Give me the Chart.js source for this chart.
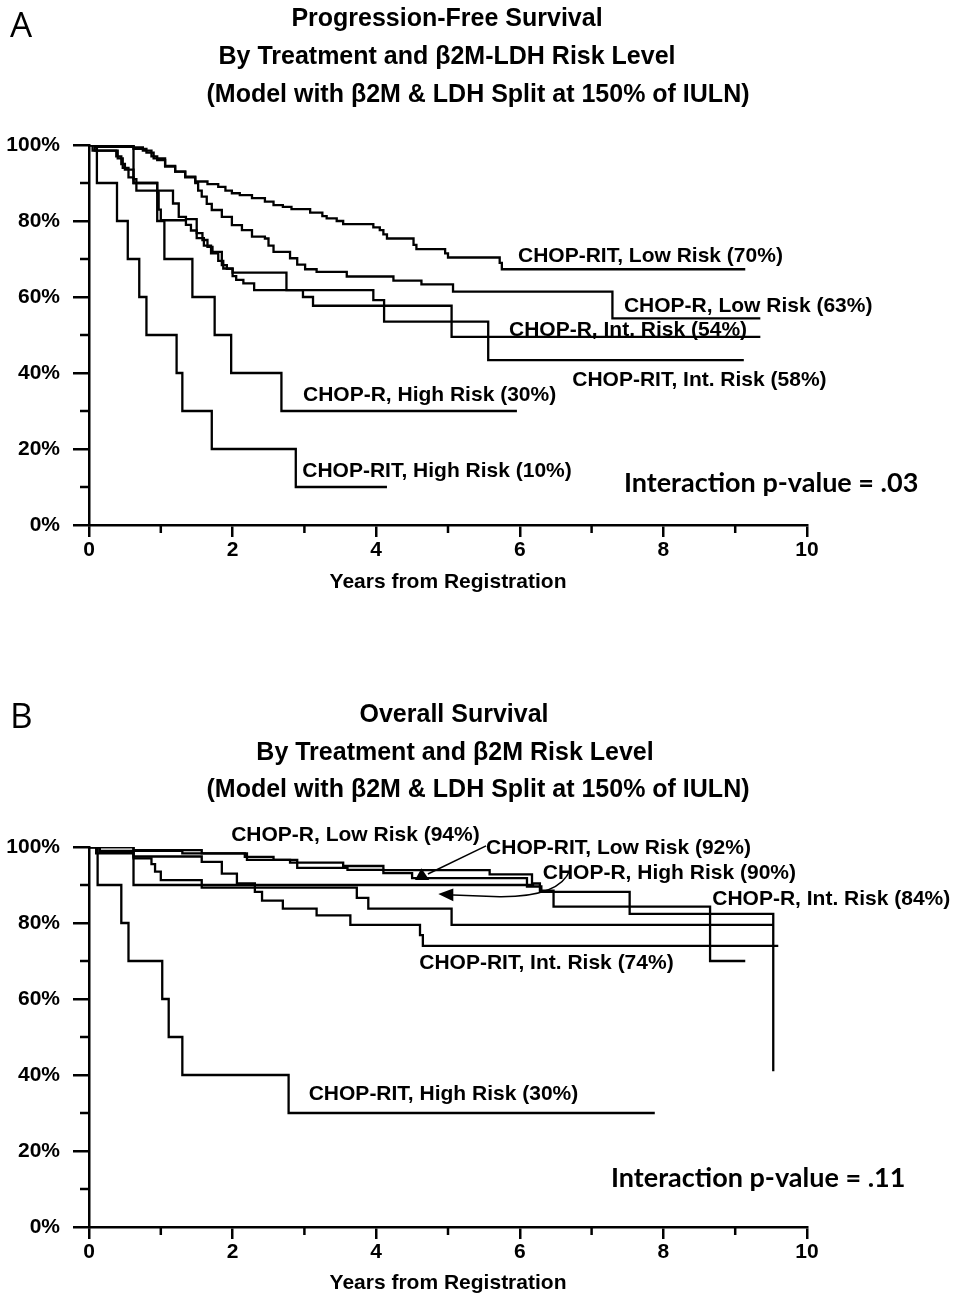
<!DOCTYPE html>
<html>
<head>
<meta charset="utf-8">
<script src="https://cdn.jsdelivr.net/npm/chart.js@4.4.1/dist/chart.umd.min.js"></script>
<style>
  html, body { margin: 0; padding: 0; background: #fff; }
  body { width: 954px; height: 1298px; position: relative; overflow: hidden;
         font-family: "Liberation Sans", Arial, sans-serif; }
  .panel { position: absolute; left: 0; width: 954px; height: 649px; }
  .t { position: absolute; transform: translate(-50%, -50%); white-space: nowrap;
       font-weight: bold; font-size: 25px; line-height: 1; color: #000; }
  .letter { position: absolute; font-family: "Open Sans", sans-serif; font-size: 35px;
            line-height: 1; color: #000; }
</style>
</head>
<body>
<div class="panel" style="top:0"><canvas id="pfs" width="954" height="649"></canvas></div>
<div class="panel" style="top:649px"><canvas id="os" width="954" height="649"></canvas></div>

<div class="letter" style="left:10px;top:6px">A</div>
<div class="t" style="left:447px;top:17px">Progression-Free Survival</div>
<div class="t" style="left:447px;top:55px">By Treatment and β2M-LDH Risk Level</div>
<div class="t" style="left:478px;top:93px">(Model with β2M &amp; LDH Split at 150% of IULN)</div>

<div class="letter" style="left:10px;top:697px">B</div>
<div class="t" style="left:454px;top:713px">Overall Survival</div>
<div class="t" style="left:455px;top:751px">By Treatment and β2M Risk Level</div>
<div class="t" style="left:478px;top:788px">(Model with β2M &amp; LDH Split at 150% of IULN)</div>

<script>
"use strict";

// axis ticks
var yTicksMajor = [0, 20, 40, 60, 80, 100];
var yTicksMinor = [10, 30, 50, 70, 90];
var xTicksMajor = [0, 2, 4, 6, 8, 10];
var xTicksMinor = [1, 3, 5, 7, 9];
var xTitle = "Years from Registration";

// Panel A: progression-free survival, [years, % event free after the step]
var pfsRitLow = [[0,100],[0.62,99.4],[0.75,98.5],[0.87,97],[0.95,96],[1.06,94.3],[1.2,93],
  [1.34,91.7],[1.48,90.4],[1.65,89.7],[1.8,89],[1.9,88],[1.99,87.3],[2.1,86.8],[2.27,86],
  [2.45,85.1],[2.57,84.2],[2.7,83.7],[2.82,83.1],[3.08,82.2],[3.25,81.3],[3.31,80.7],
  [3.45,80],[3.54,79.2],[3.96,78.3],[4.05,77.6],[4.1,76.5],[4.15,75.4],[4.52,73.7],
  [4.56,72.6],[4.96,71.5],[5.0,70.4],[5.72,69],[5.75,67.3],[9.14,67.3]];
var pfsRLow = [[0,100],[0.1,99.5],[0.62,99],[0.8,98],[0.9,96.5],[1.06,94.5],[1.2,93],
  [1.34,91.5],[1.48,90],[1.52,88],[1.57,86.4],[1.64,84.5],[1.71,82.9],[1.85,81.1],
  [1.99,78.9],[2.13,77.6],[2.27,75.9],[2.45,75.4],[2.5,73.5],[2.57,71.9],[2.8,70.2],
  [2.9,68.5],[3.01,67.3],[3.17,66.6],[3.59,65.4],[4.24,64.3],[4.63,63.3],[5.07,61.4],
  [7.29,54.4],[9.35,54.4]];
var pfsRInt = [[0,100],[0.08,98.5],[0.4,96.5],[0.47,94],[0.55,91.5],[0.62,90],[0.95,87.5],
  [0.97,83],[1.0,80.2],[1.35,79],[1.42,77.5],[1.5,75.5],[1.6,73.5],[1.7,71.5],[1.8,69.5],
  [1.87,67.5],[2.0,65.5],[2.05,64.5],[2.15,63.6],[2.3,61.8],[2.98,60],[3.12,57.7],
  [5.05,49.5],[9.35,49.5]];
var pfsRitInt = [[0,100],[0.05,98.5],[0.38,97],[0.45,95],[0.5,93.5],[0.62,91],[0.66,88],
  [1.17,84.6],[1.25,81.1],[1.35,80.5],[1.5,76.8],[1.58,75],[1.65,73.2],[1.72,71.9],
  [1.85,68.4],[1.92,67.4],[2.0,66.4],[2.75,61.8],[3.96,59.2],[4.11,53.5],[5.56,43.4],
  [9.12,43.4]];
var pfsRHigh = [[0,100],[0.62,90],[0.95,80],[1.05,70],[1.44,60],[1.75,50],[1.98,40],
  [2.68,30],[5.96,30]];
var pfsRitHigh = [[0,100],[0.11,90],[0.39,80],[0.54,70],[0.70,60],[0.80,50],[1.22,40],
  [1.30,30],[1.71,20],[2.88,10],[4.15,10]];

// Panel B: overall survival
var osRLow = [[0,100],[0.62,99.2],[1.57,98.3],[2.17,97.4],[2.57,96.6],[2.8,95.9],[3.54,95],
  [4.1,93.9],[5.58,92.8],[6.17,90.4],[6.28,88.2],[7.53,82.4],[9.53,41]];
var osRitLow = [[0,100],[0.15,99],[1.3,98.3],[2.2,96.6],[2.9,94.5],[3.6,94],[4.1,93.1],
  [4.5,91.8],[6.1,89.6],[6.3,88.5],[6.47,84.3],[8.65,70],[9.14,70]];
var osRHigh = [[0,100],[0.62,90],[6.2,90]];
var osRInt = [[0,100],[0.1,98.3],[0.62,97],[0.87,95.5],[0.92,93.5],[1.0,91.3],[1.57,89.3],
  [3.73,86.6],[3.89,83.8],[5.05,79.5],[9.53,79.5]];
var osRitInt = [[0,100],[0.15,98.5],[0.62,97.5],[1.57,96.1],[1.85,93],[2.06,90.4],[2.31,88.2],
  [2.41,85.9],[2.7,83.8],[3.17,82],[3.64,79.5],[4.61,76.8],[4.65,74],[9.6,74]];
var osRitHigh = [[0,100],[0.12,90],[0.45,80],[0.55,70],[1.02,60],[1.11,50],[1.30,40],
  [2.78,30],[7.88,30]];

var FONT = '"Liberation Sans", Arial, sans-serif';
var LABEL_FONT = "bold 21px " + FONT;
var NOTE_FONT = "bold 27px Lato, sans-serif";

// curve labels, placed in data units (years, %)
var pfsNotes = [
  { text: "CHOP-RIT, Low Risk (70%)", x: 5.975, y: 70.8 },
  { text: "CHOP-R, Low Risk (63%)", x: 7.45, y: 57.6 },
  { text: "CHOP-R, Int. Risk (54%)", x: 5.85, y: 51.3 },
  { text: "CHOP-RIT, Int. Risk (58%)", x: 6.73, y: 38.2 },
  { text: "CHOP-R, High Risk (30%)", x: 2.98, y: 34.2 },
  { text: "CHOP-RIT, High Risk (10%)", x: 2.97, y: 14.2 },
  { text: "Interaction p-value = .03", x: 7.45, y: 11.0, font: NOTE_FONT }
];
var osNotes = [
  { text: "CHOP-R, Low Risk (94%)", x: 1.98, y: 103.2 },
  { text: "CHOP-RIT, Low Risk (92%)", x: 5.53, y: 99.7 },
  { text: "CHOP-R, High Risk (90%)", x: 6.32, y: 93.2 },
  { text: "CHOP-R, Int. Risk (84%)", x: 8.68, y: 86.3 },
  { text: "CHOP-RIT, Int. Risk (74%)", x: 4.60, y: 69.5 },
  { text: "CHOP-RIT, High Risk (30%)", x: 3.06, y: 35.0 },
  { text: "Interaction p-value = .11", x: 7.27, y: 12.9, font: NOTE_FONT }
];
var osArrows = [
  { line: [[5.53, 100.3], [4.72, 92.9]], head: [[4.63, 94.4], [4.54, 91.3], [4.74, 91.3]] },
  { line: [[5.07, 87.4], [5.72, 86.9]], curve: [[6.56, 86.8], [6.70, 94.0]],
    head: [[4.865, 87.6], [5.074, 89.1], [5.074, 85.7]] }
];

var decor = {
  id: "decor",
  afterDraw: function (chart, args, opts) {
    var ctx = chart.ctx, xs = chart.scales.x, ys = chart.scales.y, ca = chart.chartArea;
    function px(v) { return xs.getPixelForValue(v); }
    function py(v) { return ys.getPixelForValue(v); }
    ctx.save();
    ctx.strokeStyle = "#000";
    ctx.fillStyle = "#000";
    ctx.lineWidth = 2.5;
    // minor ticks, shorter than the major ones
    yTicksMinor.forEach(function (v) {
      ctx.beginPath();
      ctx.moveTo(ca.left - 9, py(v));
      ctx.lineTo(ca.left, py(v));
      ctx.stroke();
    });
    xTicksMinor.forEach(function (v) {
      ctx.beginPath();
      ctx.moveTo(px(v), ca.bottom);
      ctx.lineTo(px(v), ca.bottom + 8);
      ctx.stroke();
    });
    ctx.textAlign = "left";
    ctx.textBaseline = "middle";
    (opts.notes || []).forEach(function (n) {
      ctx.font = n.font || LABEL_FONT;
      ctx.fillText(n.text, px(n.x), py(n.y));
    });
    ctx.lineWidth = 1.5;
    (opts.arrows || []).forEach(function (a) {
      ctx.beginPath();
      ctx.moveTo(px(a.line[0][0]), py(a.line[0][1]));
      ctx.lineTo(px(a.line[1][0]), py(a.line[1][1]));
      if (a.curve) {
        ctx.quadraticCurveTo(px(a.curve[0][0]), py(a.curve[0][1]),
                             px(a.curve[1][0]), py(a.curve[1][1]));
      }
      ctx.stroke();
      ctx.beginPath();
      a.head.forEach(function (p, i) {
        if (i === 0) ctx.moveTo(px(p[0]), py(p[1]));
        else ctx.lineTo(px(p[0]), py(p[1]));
      });
      ctx.closePath();
      ctx.fill();
    });
    ctx.restore();
  }
};

function toPoints(arr) {
  return arr.map(function (p) { return { x: p[0], y: p[1] }; });
}

function makeChart(id, curves, notes, arrows, padTop, xAxisH, titlePad) {
  var tickFont = { family: FONT, size: 21, weight: "bold" };
  return new Chart(document.getElementById(id), {
    type: "line",
    data: {
      datasets: curves.map(function (c) {
        return {
          data: toPoints(c),
          stepped: true,
          borderColor: "#000",
          borderWidth: 2.3,
          pointRadius: 0,
          fill: false,
          tension: 0
        };
      })
    },
    options: {
      responsive: false,
      animation: false,
      events: [],
      layout: { padding: { top: padTop, right: 147, left: 0, bottom: 0 } },
      plugins: {
        legend: { display: false },
        tooltip: { enabled: false },
        decor: { notes: notes, arrows: arrows }
      },
      scales: {
        x: {
          type: "linear",
          min: 0,
          max: 10,
          afterFit: function (s) { s.height = xAxisH; },
          border: { color: "#000", width: 2.5 },
          grid: { drawOnChartArea: false, color: "#000", tickColor: "#000",
                  tickLength: 12, tickWidth: 2.5, lineWidth: 2.5 },
          afterBuildTicks: function (s) {
            s.ticks = xTicksMajor.map(function (v) { return { value: v }; });
          },
          ticks: { color: "#000", font: tickFont, padding: 1, maxRotation: 0,
                   autoSkip: false },
          title: { display: true, text: xTitle, color: "#000",
                   font: { family: FONT, size: 21, weight: "bold" },
                   padding: { top: 0, bottom: titlePad } }
        },
        y: {
          min: 0,
          max: 100,
          afterFit: function (s) { s.width = 89; },
          border: { color: "#000", width: 2.5 },
          grid: { drawOnChartArea: false, color: "#000", tickColor: "#000",
                  tickLength: 16, tickWidth: 2.5, lineWidth: 2.5 },
          afterBuildTicks: function (s) {
            s.ticks = yTicksMajor.map(function (v) { return { value: v }; });
          },
          ticks: { color: "#000", font: tickFont, padding: 13,
                   callback: function (v) { return v + "%"; } }
        }
      }
    },
    plugins: [decor]
  });
}

makeChart("pfs",
  [pfsRitLow, pfsRLow, pfsRInt, pfsRitInt, pfsRHigh, pfsRitHigh],
  pfsNotes, [], 145, 124, 54);
makeChart("os",
  [osRLow, osRitLow, osRHigh, osRInt, osRitInt, osRitHigh],
  osNotes, osArrows, 198, 71, 2);
</script>
</body>
</html>
